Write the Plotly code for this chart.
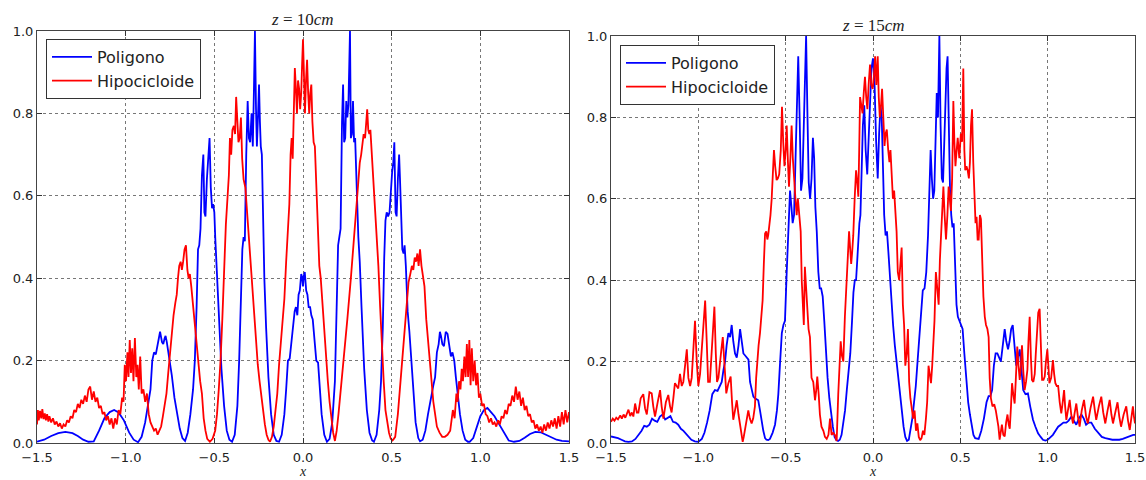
import plotly.graph_objects as go

# ---------------- data (x, intensity) ----------------
# z = 10 cm, Poligono
pol_10 = [
(-1.50,.003),(-1.46,.008),(-1.42,.017),(-1.38,.024),(-1.34,.027),(-1.30,.024),(-1.27,.017),(-1.24,.008),(-1.21,.003),(-1.18,.004),(-1.15,.030),(-1.12,.060),(-1.09,.075),(-1.065,.080),(-1.04,.074),(-1.01,.055),(-0.98,.025),(-0.955,.008),(-0.93,.002),
(-0.91,.015),(-0.89,.050),(-0.875,.090),(-0.86,.130),(-0.85,.200),(-0.84,.220),(-0.83,.215),(-0.82,.240),(-0.806,.270),(-0.795,.245),(-0.788,.240),(-0.78,.255),(-0.775,.260),(-0.768,.245),(-0.76,.225),(-0.75,.200),(-0.74,.165),(-0.725,.110),(-0.71,.070),(-0.695,.035),(-0.68,.012),(-0.665,.005),
(-0.65,.025),(-0.635,.070),(-0.62,.130),(-0.61,.200),(-0.60,.330),(-0.592,.470),(-0.585,.480),(-0.578,.520),(-0.57,.650),(-0.562,.700),(-0.556,.560),(-0.55,.550),(-0.542,.640),(-0.535,.700),(-0.527,.740),(-0.52,.620),(-0.513,.570),(-0.507,.580),(-0.50,.560),(-0.495,.500),(-0.485,.400),(-0.475,.300),(-0.46,.180),(-0.445,.090),(-0.43,.030),(-0.415,.008),(-0.40,.003),
(-0.385,.020),(-0.37,.090),(-0.36,.200),(-0.35,.350),(-0.342,.470),(-0.335,.500),(-0.328,.490),(-0.32,.700),(-0.312,.830),(-0.305,.740),(-0.298,.730),(-0.29,.800),(-0.283,.720),(-0.277,.850),(-0.271,1.000),(-0.265,.810),(-0.26,.720),(-0.254,.790),(-0.248,.870),(-0.243,.780),(-0.238,.720),(-0.232,.700),(-0.226,.520),(-0.218,.400),(-0.208,.280),(-0.195,.160),(-0.18,.070),(-0.165,.020),(-0.15,.005),(-0.135,.003),
(-0.12,.020),(-0.105,.070),(-0.095,.130),(-0.085,.200),(-0.075,.205),(-0.065,.250),(-0.055,.300),(-0.047,.320),(-0.04,.330),(-0.032,.310),(-0.025,.360),(-0.018,.370),(-0.01,.410),(-0.004,.400),(0.0,.380),(0.004,.405),(0.01,.415),(0.018,.370),(0.025,.360),(0.032,.330),(0.04,.330),(0.047,.310),(0.055,.300),(0.065,.250),(0.075,.200),(0.085,.195),(0.095,.130),(0.105,.070),(0.12,.020),
(0.135,.003),(0.15,.010),(0.165,.050),(0.18,.150),(0.19,.300),(0.198,.480),(0.205,.500),(0.212,.520),(0.22,.780),(0.226,.870),(0.232,.730),(0.238,.740),(0.244,.830),(0.25,.790),(0.256,.820),(0.261,.900),(0.265,1.000),(0.27,.740),(0.276,.750),(0.282,.830),(0.288,.730),(0.294,.740),(0.30,.680),(0.306,.580),(0.312,.500),(0.32,.440),(0.33,.330),(0.345,.180),(0.36,.080),(0.375,.025),(0.39,.006),(0.40,.003),
(0.415,.020),(0.43,.080),(0.44,.150),(0.45,.280),(0.458,.450),(0.465,.540),(0.472,.560),(0.48,.550),(0.488,.560),(0.495,.620),(0.503,.660),(0.509,.680),(0.515,.730),(0.522,.560),(0.528,.550),(0.535,.640),(0.542,.700),(0.547,.640),(0.553,.550),(0.56,.470),(0.567,.460),(0.573,.480),(0.58,.430),(0.59,.320),(0.60,.270),(0.61,.200),(0.62,.130),(0.635,.050),(0.65,.012),(0.66,.004),
(0.675,.008),(0.69,.030),(0.705,.070),(0.72,.110),(0.735,.140),(0.745,.160),(0.755,.220),(0.765,.240),(0.772,.270),(0.778,.260),(0.786,.240),(0.795,.235),(0.805,.270),(0.815,.265),(0.825,.240),(0.834,.210),(0.843,.220),(0.853,.200),(0.862,.160),(0.872,.120),(0.885,.070),(0.90,.030),(0.915,.008),(0.93,.003),(0.94,.003),
(0.96,.012),(0.98,.040),(1.00,.065),(1.02,.080),(1.04,.085),(1.06,.075),(1.08,.065),(1.10,.050),(1.12,.035),(1.14,.020),(1.16,.006),(1.19,.003),(1.22,.005),(1.25,.013),(1.28,.022),(1.31,.027),(1.34,.026),(1.37,.020),(1.40,.013),(1.43,.008),(1.46,.005),(1.50,.004),
]

# z = 10 cm, Hipocicloide
hip_10 = [
(-1.50,.045),(-1.495,.080),(-1.49,.055),(-1.483,.078),(-1.476,.060),(-1.47,.082),(-1.463,.058),(-1.456,.072),(-1.45,.055),(-1.443,.070),(-1.436,.052),(-1.43,.065),(-1.42,.050),(-1.41,.060),(-1.40,.045),(-1.39,.052),(-1.38,.040),(-1.37,.048),(-1.36,.035),(-1.35,.045),(-1.34,.040),(-1.33,.055),(-1.32,.050),(-1.31,.065),(-1.30,.060),(-1.29,.080),(-1.28,.075),(-1.27,.095),(-1.26,.085),(-1.25,.105),(-1.24,.095),(-1.23,.115),(-1.22,.100),(-1.21,.130),(-1.20,.137),(-1.19,.105),(-1.18,.125),(-1.17,.100),(-1.16,.110),(-1.15,.085),(-1.14,.090),(-1.13,.070),(-1.12,.075),(-1.11,.055),(-1.10,.065),(-1.09,.045),(-1.08,.060),(-1.07,.035),(-1.06,.060),(-1.05,.045),
(-1.04,.080),(-1.03,.070),(-1.02,.110),(-1.012,.100),(-1.005,.190),(-0.998,.150),(-0.99,.220),(-0.984,.160),(-0.977,.250),(-0.97,.170),(-0.963,.230),(-0.956,.150),(-0.948,.255),(-0.94,.160),(-0.933,.190),(-0.926,.130),(-0.918,.210),(-0.91,.120),(-0.90,.130),(-0.89,.100),(-0.88,.120),(-0.87,.070),(-0.86,.050),(-0.85,.040),(-0.84,.030),(-0.83,.035),(-0.82,.020),(-0.81,.030),
(-0.80,.040),(-0.79,.065),(-0.78,.090),(-0.77,.120),(-0.76,.170),(-0.75,.220),(-0.74,.270),(-0.73,.310),(-0.72,.340),(-0.712,.360),(-0.705,.400),(-0.698,.430),(-0.69,.440),(-0.683,.420),(-0.676,.440),(-0.668,.470),(-0.66,.480),(-0.652,.420),(-0.645,.400),(-0.638,.410),(-0.63,.380),(-0.62,.330),(-0.61,.300),(-0.60,.250),(-0.59,.180),(-0.58,.150),(-0.57,.120),(-0.56,.060),(-0.55,.030),(-0.54,.010),(-0.525,.003),
(-0.51,.010),(-0.495,.030),(-0.485,.070),(-0.475,.130),(-0.465,.200),(-0.455,.300),(-0.445,.420),(-0.435,.530),(-0.425,.600),(-0.418,.650),(-0.412,.740),(-0.405,.700),(-0.398,.760),(-0.39,.770),(-0.383,.750),(-0.377,.840),(-0.37,.780),(-0.364,.730),(-0.357,.740),(-0.35,.790),(-0.343,.690),(-0.335,.640),(-0.325,.620),(-0.315,.560),(-0.305,.480),(-0.295,.420),(-0.285,.360),(-0.275,.300),(-0.265,.240),(-0.255,.190),(-0.245,.150),(-0.235,.110),(-0.225,.075),(-0.215,.045),(-0.205,.020),(-0.195,.008),(-0.186,.003),
(-0.175,.015),(-0.165,.040),(-0.155,.080),(-0.145,.120),(-0.135,.190),(-0.125,.240),(-0.115,.300),(-0.105,.350),(-0.095,.440),(-0.085,.520),(-0.077,.580),(-0.07,.700),(-0.064,.740),(-0.058,.690),(-0.052,.820),(-0.046,.910),(-0.04,.860),(-0.034,.800),(-0.028,.880),(-0.022,.860),(-0.016,.810),(-0.01,.850),(-0.005,.920),(0.0,.980),(0.005,.900),(0.011,.800),(0.017,.880),(0.023,.930),(0.029,.850),(0.035,.800),(0.041,.850),(0.047,.870),(0.053,.780),(0.06,.730),(0.067,.720),(0.075,.620),(0.084,.500),(0.092,.430),(0.10,.400),(0.11,.330),(0.12,.280),(0.13,.210),(0.14,.150),(0.15,.100),(0.16,.060),(0.17,.025),(0.18,.005),
(0.19,.030),(0.20,.070),(0.216,.140),(0.234,.220),(0.25,.300),(0.27,.400),(0.288,.490),(0.306,.600),(0.313,.640),(0.32,.680),(0.328,.700),(0.335,.730),(0.342,.750),(0.35,.740),(0.356,.770),(0.362,.810),(0.368,.760),(0.374,.750),(0.38,.760),(0.387,.710),(0.395,.660),(0.405,.560),(0.415,.500),(0.425,.430),(0.435,.330),(0.445,.230),(0.455,.150),(0.465,.080),(0.475,.050),(0.485,.025),(0.495,.010),(0.505,.006),(0.512,.010),(0.52,.015),
(0.535,.070),(0.55,.150),(0.565,.230),(0.58,.320),(0.595,.390),(0.605,.410),(0.614,.430),(0.622,.420),(0.63,.450),(0.637,.440),(0.645,.460),(0.652,.430),(0.66,.470),(0.668,.430),(0.676,.400),(0.685,.380),(0.695,.300),(0.705,.250),(0.715,.190),(0.725,.140),(0.735,.100),(0.745,.070),(0.755,.040),(0.77,.025),(0.785,.015),(0.80,.015),(0.815,.020),(0.83,.030),
(0.845,.080),(0.855,.060),(0.865,.120),(0.872,.100),(0.88,.150),(0.888,.130),(0.895,.180),(0.902,.150),(0.91,.210),(0.917,.160),(0.924,.240),(0.931,.160),(0.938,.250),(0.945,.140),(0.952,.230),(0.96,.150),(0.968,.200),(0.976,.140),(0.984,.170),(0.992,.110),(1.0,.120),(1.01,.090),(1.02,.095),(1.03,.070),(1.04,.065),(1.05,.050),(1.06,.060),(1.07,.045),(1.08,.050),(1.09,.040),(1.10,.055),(1.11,.045),(1.12,.065),(1.13,.060),(1.14,.080),(1.15,.070),(1.16,.095),(1.17,.090),(1.18,.115),(1.19,.100),(1.20,.137),(1.21,.105),(1.22,.125),(1.23,.090),(1.24,.110),(1.25,.080),(1.26,.090),(1.27,.065),(1.28,.070),(1.29,.050),(1.30,.055),(1.31,.035),(1.32,.045),(1.33,.030),(1.34,.040),(1.35,.025),(1.36,.045),(1.37,.030),(1.38,.050),(1.39,.035),(1.40,.055),(1.41,.040),(1.42,.060),(1.43,.035),(1.44,.065),(1.45,.040),(1.46,.075),(1.47,.045),(1.48,.080),(1.49,.050),(1.50,.075),
]

# z = 15 cm, Poligono
pol_15 = [
(-1.50,.016),(-1.48,.014),(-1.46,.012),(-1.44,.008),(-1.42,.004),(-1.40,.003),(-1.38,.004),(-1.36,.010),(-1.34,.020),(-1.325,.030),(-1.31,.042),(-1.295,.040),(-1.28,.045),(-1.265,.060),(-1.25,.055),(-1.235,.052),(-1.22,.065),(-1.205,.070),(-1.19,.058),(-1.175,.062),(-1.16,.066),(-1.145,.052),(-1.13,.050),(-1.115,.045),(-1.10,.035),(-1.085,.030),(-1.07,.022),(-1.055,.015),(-1.04,.008),(-1.02,.004),(-1.0,.003),
(-0.98,.010),(-0.965,.025),(-0.95,.050),(-0.935,.080),(-0.92,.120),(-0.905,.130),(-0.89,.128),(-0.877,.140),(-0.866,.150),(-0.856,.180),(-0.847,.200),(-0.838,.240),(-0.828,.270),(-0.818,.260),(-0.809,.290),(-0.80,.250),(-0.79,.220),(-0.78,.210),(-0.77,.240),(-0.761,.280),(-0.752,.250),(-0.742,.220),(-0.732,.215),(-0.722,.210),(-0.713,.205),(-0.704,.150),(-0.694,.130),(-0.685,.114),(-0.676,.110),(-0.666,.108),(-0.657,.105),(-0.647,.080),(-0.638,.055),(-0.628,.030),(-0.618,.012),(-0.61,.008),(-0.60,.007),(-0.59,.010),
(-0.575,.025),(-0.561,.045),(-0.55,.080),(-0.542,.120),(-0.533,.190),(-0.522,.270),(-0.513,.290),(-0.504,.300),(-0.494,.420),(-0.485,.520),(-0.475,.620),(-0.467,.580),(-0.46,.540),(-0.452,.560),(-0.444,.700),(-0.436,.850),(-0.428,.950),(-0.42,.800),(-0.412,.620),(-0.404,.650),(-0.397,.750),(-0.39,.880),(-0.383,1.000),(-0.375,.800),(-0.368,.640),(-0.36,.600),(-0.352,.650),(-0.344,.750),(-0.337,.700),(-0.33,.580),(-0.322,.520),(-0.313,.420),(-0.305,.380),(-0.297,.380),(-0.288,.360),(-0.279,.300),(-0.27,.220),(-0.26,.160),(-0.25,.110),(-0.24,.070),(-0.23,.040),(-0.22,.015),(-0.21,.007),(-0.20,.005),
(-0.19,.008),(-0.18,.020),(-0.17,.045),(-0.16,.080),(-0.15,.130),(-0.14,.170),(-0.13,.220),(-0.12,.300),(-0.112,.370),(-0.104,.400),(-0.097,.400),(-0.09,.450),(-0.084,.520),(-0.078,.540),(-0.072,.560),(-0.065,.690),(-0.058,.780),(-0.05,.830),(-0.042,.720),(-0.033,.660),(-0.025,.760),(-0.017,.850),(-0.009,.920),(0.0,.945),(0.009,.880),(0.018,.740),(0.027,.650),(0.035,.760),(0.043,.830),(0.05,.800),(0.057,.650),(0.064,.560),(0.072,.510),(0.08,.520),(0.088,.470),(0.097,.400),(0.106,.340),(0.115,.290),(0.125,.240),(0.135,.200),(0.145,.150),(0.155,.110),(0.165,.070),(0.175,.040),(0.185,.015),(0.195,.005),
(0.205,.008),(0.215,.030),(0.225,.060),(0.235,.100),(0.245,.140),(0.255,.200),(0.265,.260),(0.275,.330),(0.285,.375),(0.295,.380),(0.305,.420),(0.315,.510),(0.323,.600),(0.33,.720),(0.337,.650),(0.344,.600),(0.351,.620),(0.358,.750),(0.365,.860),(0.372,.800),(0.38,1.000),(0.387,.780),(0.394,.650),(0.401,.640),(0.408,.750),(0.415,.850),(0.421,.920),(0.427,.950),(0.434,.780),(0.441,.620),(0.448,.560),(0.455,.530),(0.462,.540),(0.47,.420),(0.478,.340),(0.486,.310),(0.494,.300),(0.503,.290),(0.513,.280),(0.523,.220),(0.534,.155),(0.545,.100),(0.555,.070),(0.565,.040),(0.575,.020),(0.585,.012),(0.595,.010),(0.605,.010),
(0.62,.030),(0.635,.060),(0.65,.100),(0.662,.115),(0.672,.115),(0.682,.130),(0.692,.190),(0.702,.220),(0.712,.220),(0.722,.210),(0.732,.200),(0.743,.240),(0.754,.280),(0.763,.250),(0.773,.230),(0.782,.250),(0.791,.280),(0.80,.290),(0.81,.240),(0.82,.190),(0.83,.210),(0.84,.230),(0.85,.180),(0.86,.130),(0.873,.120),(0.887,.122),(0.90,.090),(0.916,.057),(0.93,.040),(0.945,.024),(0.96,.015),(0.973,.008),(0.987,.006),(1.0,.008),(1.015,.014),(1.03,.020),(1.045,.030),(1.06,.040),(1.075,.045),(1.09,.050),(1.107,.050),(1.12,.055),(1.136,.065),(1.15,.055),(1.164,.045),(1.178,.060),(1.193,.070),(1.207,.060),(1.22,.045),(1.235,.050),(1.25,.050),(1.27,.035),(1.29,.024),(1.31,.015),(1.33,.012),(1.35,.010),(1.37,.008),(1.39,.008),(1.41,.008),(1.43,.010),(1.45,.014),(1.47,.016),(1.49,.020),(1.50,.020),
]

# z = 15 cm, Hipocicloide
hip_15 = [
(-1.50,.052),(-1.49,.060),(-1.48,.055),(-1.47,.062),(-1.46,.058),(-1.447,.068),(-1.438,.060),(-1.428,.070),(-1.418,.062),(-1.40,.082),(-1.39,.066),(-1.381,.075),(-1.372,.065),(-1.362,.097),(-1.352,.075),(-1.343,.075),(-1.33,.110),(-1.315,.120),(-1.305,.085),(-1.295,.070),(-1.28,.125),(-1.267,.122),(-1.258,.090),(-1.248,.065),(-1.233,.100),(-1.219,.130),(-1.21,.090),(-1.20,.060),(-1.186,.100),(-1.172,.118),(-1.162,.090),(-1.153,.075),(-1.143,.110),(-1.134,.147),(-1.124,.140),(-1.115,.134),
(-1.105,.170),(-1.095,.140),(-1.086,.150),(-1.076,.190),(-1.066,.230),(-1.057,.160),(-1.047,.140),(-1.038,.160),(-1.028,.220),(-1.019,.300),(-1.009,.200),(-1.0,.140),(-0.99,.170),(-0.98,.240),(-0.97,.300),(-0.961,.350),(-0.952,.250),(-0.944,.150),(-0.934,.150),(-0.924,.230),(-0.916,.290),(-0.908,.335),(-0.90,.220),(-0.893,.150),(-0.885,.160),(-0.876,.190),(-0.868,.230),(-0.86,.260),
(-0.85,.200),(-0.84,.122),(-0.828,.147),(-0.815,.163),(-0.807,.100),(-0.80,.057),(-0.79,.080),(-0.78,.105),(-0.77,.070),(-0.761,.040),(-0.753,.015),(-0.746,.003),(-0.74,.015),(-0.733,.032),(-0.724,.060),(-0.714,.080),(-0.705,.060),(-0.695,.048),(-0.686,.060),(-0.676,.090),(-0.669,.160),(-0.662,.210),(-0.655,.240),(-0.647,.270),(-0.64,.300),(-0.632,.350),(-0.625,.440),(-0.618,.515),(-0.611,.520),(-0.605,.500),(-0.60,.510),(-0.594,.530),(-0.587,.560),(-0.58,.600),(-0.573,.650),(-0.567,.720),(-0.56,.680),(-0.552,.646),(-0.545,.650),(-0.537,.660),
(-0.528,.720),(-0.521,.826),(-0.514,.740),(-0.507,.680),(-0.50,.720),(-0.494,.780),(-0.487,.690),(-0.481,.630),(-0.473,.700),(-0.466,.780),(-0.459,.700),(-0.452,.640),(-0.444,.600),(-0.437,.560),(-0.43,.600),(-0.422,.560),(-0.414,.520),(-0.408,.400),(-0.402,.330),(-0.396,.290),(-0.39,.433),(-0.383,.380),(-0.376,.310),(-0.369,.280),(-0.361,.260),(-0.352,.160),(-0.342,.150),(-0.332,.105),(-0.325,.130),(-0.319,.163),(-0.311,.120),(-0.304,.070),(-0.295,.040),(-0.284,.030),(-0.275,.015),(-0.265,.010),(-0.255,.020),(-0.246,.060),(-0.237,.020),(-0.228,.025),(-0.218,.020),(-0.208,.005),
(-0.199,.120),(-0.192,.200),(-0.185,.250),(-0.178,.215),(-0.17,.200),(-0.161,.310),(-0.151,.400),(-0.144,.470),(-0.137,.520),(-0.131,.480),(-0.125,.440),(-0.119,.470),(-0.113,.510),(-0.105,.600),(-0.097,.670),(-0.09,.640),(-0.084,.605),(-0.079,.720),(-0.074,.850),(-0.067,.830),(-0.06,.810),(-0.053,.860),(-0.046,.900),(-0.039,.850),(-0.032,.820),(-0.025,.880),(-0.017,.930),(-0.01,.880),(-0.002,.870),
(0.005,.900),(0.012,.950),(0.019,.880),(0.027,.950),(0.033,.850),(0.039,.800),(0.046,.830),(0.052,.870),(0.059,.800),(0.066,.730),(0.072,.760),(0.079,.770),(0.087,.720),(0.094,.690),(0.10,.720),(0.107,.640),(0.114,.600),(0.121,.620),(0.128,.560),(0.135,.520),(0.142,.420),(0.15,.400),(0.157,.440),(0.164,.480),(0.171,.340),(0.178,.290),(0.185,.190),(0.193,.220),(0.20,.280),(0.207,.150),(0.214,.110),(0.222,.090),(0.23,.060),(0.238,.080),(0.246,.030),(0.254,.048),(0.262,.015),(0.27,.007),(0.278,.012),(0.286,.030),(0.294,.020),
(0.303,.060),(0.31,.100),(0.318,.190),(0.325,.160),(0.332,.147),(0.339,.190),(0.345,.230),(0.352,.300),(0.36,.420),(0.368,.380),
(0.376,.340),(0.383,.450),(0.39,.530),(0.397,.600),(0.403,.630),(0.41,.560),(0.418,.500),(0.426,.560),(0.433,.630),(0.44,.600),
(0.446,.570),(0.453,.650),(0.46,.840),(0.466,.740),(0.472,.680),(0.479,.720),(0.485,.750),(0.494,.700),(0.503,.760),(0.51,.740),
(0.517,.920),(0.523,.720),(0.528,.670),(0.535,.680),(0.542,.670),(0.549,.650),(0.555,.690),(0.561,.780),(0.567,.820),(0.574,.690),
(0.58,.600),(0.587,.540),(0.593,.556),(0.599,.500),(0.605,.500),(0.612,.560),(0.618,.550),(0.625,.420),(0.632,.360),(0.64,.310),
(0.647,.290),(0.655,.280),(0.662,.260),(0.668,.160),(0.675,.110),(0.684,.090),(0.694,.095),(0.703,.080),(0.712,.060),(0.718,.040),
(0.725,.008),(0.731,.030),(0.738,.045),(0.746,.020),(0.754,.016),(0.762,.050),(0.77,.070),(0.777,.045),(0.783,.035),(0.79,.090),
(0.796,.147),(0.803,.120),(0.811,.097),(0.818,.160),(0.826,.237),(0.833,.190),(0.84,.155),(0.847,.190),(0.853,.240),(0.86,.180),
(0.868,.130),(0.876,.150),(0.884,.180),(0.89,.250),(0.897,.310),(0.904,.210),(0.91,.155),(0.918,.150),(0.926,.170),(0.932,.220),
(0.939,.280),(0.946,.320),(0.954,.330),(0.961,.220),(0.968,.155),(0.976,.155),(0.983,.163),(0.99,.200),(0.998,.230),(1.004,.190),
(1.01,.147),(1.02,.160),(1.03,.204),(1.037,.170),(1.044,.147),(1.052,.140),(1.06,.140),(1.069,.100),(1.078,.073),(1.086,.100),
(1.094,.130),(1.10,.090),(1.107,.057),(1.116,.080),(1.126,.106),(1.135,.070),(1.145,.048),(1.155,.075),(1.164,.097),(1.173,.065),
(1.183,.040),(1.195,.080),(1.208,.106),(1.22,.065),(1.23,.048),(1.245,.085),(1.26,.114),(1.27,.080),(1.278,.057),(1.293,.090),
(1.307,.114),(1.318,.075),(1.33,.048),(1.343,.080),(1.355,.106),(1.365,.070),(1.374,.048),(1.387,.075),(1.40,.100),(1.41,.065),
(1.42,.040),(1.435,.070),(1.45,.090),(1.46,.055),(1.47,.032),(1.48,.065),(1.488,.090),(1.494,.065),(1.50,.048),
]

series_names = ["Poligono", "Hipocicloide"]
panel_titles = ["<i>z</i> = 10<i>cm</i>", "<i>z</i> = 15<i>cm</i>"]
x_ticks = [-1.5, -1.0, -0.5, 0.0, 0.5, 1.0, 1.5]
y_ticks = [0.0, 0.2, 0.4, 0.6, 0.8, 1.0]

BLUE = "#0000ff"
RED = "#ff0000"
W, H = 1146, 480

fig = go.Figure()

def add(data, name, color, xa, ya, legend):
    xs = [p[0] for p in data]
    ys = [p[1] for p in data]
    fig.add_trace(go.Scatter(x=xs, y=ys, mode="lines", name=name,
                             line=dict(color=color, width=1.8),
                             xaxis=xa, yaxis=ya, legend=legend, showlegend=True))

add(pol_10, series_names[0], BLUE, "x", "y", "legend")
add(hip_10, series_names[1], RED, "x", "y", "legend")
add(pol_15, series_names[0], BLUE, "x2", "y2", "legend2")
add(hip_15, series_names[1], RED, "x2", "y2", "legend2")

def px_x(p):
    return p / W

def px_y(p):
    return 1 - p / H

tickfont = dict(family="DejaVu Sans", size=13, color="#222")
axis_common = dict(ticks="inside", ticklen=5, tickcolor="#333", showline=True,
                   linecolor="#444", linewidth=1, mirror="ticks", showgrid=True,
                   gridcolor="#777", griddash="dot", gridwidth=1, zeroline=False,
                   tickfont=tickfont, automargin=False)
common_x = dict(range=[-1.5, 1.5], tickmode="array", tickvals=x_ticks,
                ticktext=[("\u2212" if v < 0 else "") + f"{abs(v):.1f}" for v in x_ticks],
                ticklabelstandoff=2, **axis_common)
common_y = dict(range=[0, 1], tickmode="array", tickvals=y_ticks,
                ticktext=[f"{v:.1f}" for v in y_ticks], **axis_common)

legend_style = dict(xanchor="left", yanchor="top", bgcolor="white",
                    bordercolor="#333", borderwidth=1, itemwidth=40,
                    font=dict(family="DejaVu Sans", size=16, color="#222"),
                    traceorder="normal")

fig.update_layout(
    width=W, height=H, autosize=False,
    margin=dict(l=0, r=0, t=0, b=0, autoexpand=False),
    paper_bgcolor="white", plot_bgcolor="white",
    xaxis=dict(domain=[px_x(37), px_x(569)], anchor="y", **common_x),
    yaxis=dict(domain=[px_y(443), px_y(31)], anchor="x", **common_y),
    xaxis2=dict(domain=[px_x(611), px_x(1135)], anchor="y2", **common_x),
    yaxis2=dict(domain=[px_y(443), px_y(36)], anchor="x2", **common_y),
    legend=dict(x=px_x(46), y=px_y(39), **legend_style),
    legend2=dict(x=px_x(620), y=px_y(45), **legend_style),
    showlegend=True,
)

titlefont = dict(family="Liberation Serif", size=17, color="#222")
labelfont = dict(family="Liberation Serif", size=14, color="#222")
fig.add_annotation(text=panel_titles[0], x=px_x(303), y=px_y(20), xref="paper", yref="paper",
                   showarrow=False, font=titlefont, xanchor="center", yanchor="middle")
fig.add_annotation(text=panel_titles[1], x=px_x(873), y=px_y(25), xref="paper", yref="paper",
                   showarrow=False, font=titlefont, xanchor="center", yanchor="middle")
for cx in (303, 873):
    fig.add_annotation(text="<i>x</i>", x=px_x(cx), y=px_y(480), xref="paper", yref="paper",
                       showarrow=False, font=labelfont, xanchor="center", yanchor="bottom",
                       borderpad=0)

fig.write_html("out.html", config={"displayModeBar": False},
               post_script="document.body.style.margin='0';document.body.style.overflow='hidden';")
